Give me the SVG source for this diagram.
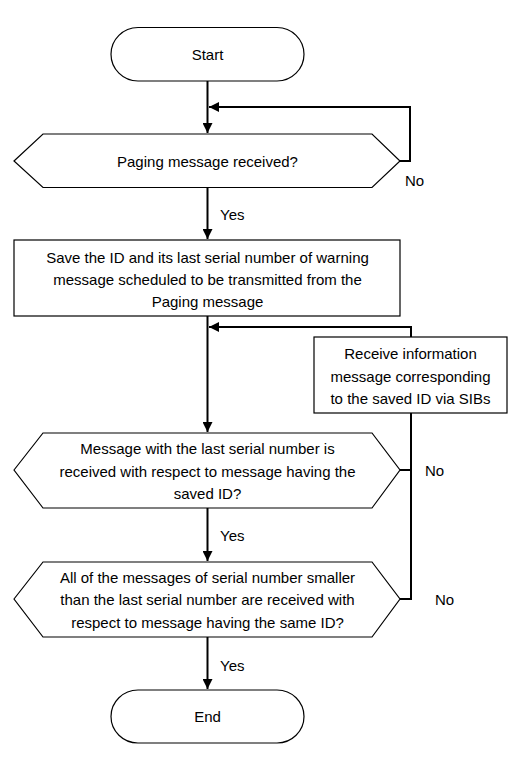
<svg xmlns="http://www.w3.org/2000/svg" width="529" height="758" viewBox="0 0 529 758">
<style>
.shape{fill:#fff;stroke:#000;stroke-width:1.2}
.conn{fill:none;stroke:#000;stroke-width:2}
text{font-family:"Liberation Sans","Open Sans",sans-serif;font-size:15px;fill:#000;text-anchor:middle;dominant-baseline:central}
.lbl{text-anchor:start}
</style>
<defs>
<marker id="arr" viewBox="0 0 10 10" refX="10" refY="5" markerWidth="5" markerHeight="5" orient="auto" markerUnits="strokeWidth">
<path d="M0,0 L10,5 L0,10 z" fill="#000"/>
</marker>
</defs>
<rect width="529" height="758" fill="#fff"/>
<g id="connectors">
<line class="conn" x1="207.5" y1="81" x2="207.5" y2="133" marker-end="url(#arr)"/>
<polyline class="conn" points="400,161 410,161 410,107 209,107" marker-end="url(#arr)"/>
<line class="conn" x1="207.5" y1="188" x2="207.5" y2="239" marker-end="url(#arr)"/>
<line class="conn" x1="207.5" y1="316" x2="207.5" y2="432" marker-end="url(#arr)"/>
<polyline class="conn" points="411,337 411,327 209,327" marker-end="url(#arr)"/>
<polyline class="conn" points="400,599 411,599 411,413"/>
<line class="conn" x1="400" y1="470" x2="411" y2="470"/>
<line class="conn" x1="207.5" y1="508" x2="207.5" y2="561" marker-end="url(#arr)"/>
<line class="conn" x1="207.5" y1="637" x2="207.5" y2="689" marker-end="url(#arr)"/>
<text class="lbl" x="405" y="180">No</text>
<text class="lbl" x="220" y="214">Yes</text>
<text class="lbl" x="425" y="470">No</text>
<text class="lbl" x="220" y="535">Yes</text>
<text class="lbl" x="435" y="599">No</text>
<text class="lbl" x="220" y="665">Yes</text>
</g>
<g id="start">
<rect class="shape" x="111" y="27.5" width="193" height="53.5" rx="27" ry="27"/>
<text x="207.5" y="54">Start</text>
</g>
<g id="decision1">
<polygon class="shape" points="14,161 43,134 372,134 400,161 372,187.5 43,187.5"/>
<text x="207.5" y="161">Paging message received?</text>
</g>
<g id="save">
<rect class="shape" x="14" y="240" width="386" height="76"/>
<text x="207.5" y="257">Save the ID and its last serial number of warning</text>
<text x="207.5" y="279">message scheduled to be transmitted from the</text>
<text x="207.5" y="301">Paging message</text>
</g>
<g id="receive">
<rect class="shape" x="314" y="337" width="193" height="76"/>
<text x="410.5" y="353">Receive information</text>
<text x="410.5" y="376">message corresponding</text>
<text x="410.5" y="398">to the saved ID via SIBs</text>
</g>
<g id="decision2">
<polygon class="shape" points="14,470 43,433 372,433 400,470 372,508 43,508"/>
<text x="207.5" y="448">Message with the last serial number is</text>
<text x="207.5" y="471">received with respect to message having the</text>
<text x="207.5" y="493">saved ID?</text>
</g>
<g id="decision3">
<polygon class="shape" points="14,599 43,562 372,562 400,599 372,637 43,637"/>
<text x="207.5" y="577">All of the messages of serial number smaller</text>
<text x="207.5" y="599">than the last serial number are received with</text>
<text x="207.5" y="622">respect to message having the same ID?</text>
</g>
<g id="end">
<rect class="shape" x="111" y="690" width="193" height="53" rx="27" ry="27"/>
<text x="207.5" y="716">End</text>
</g>
</svg>
